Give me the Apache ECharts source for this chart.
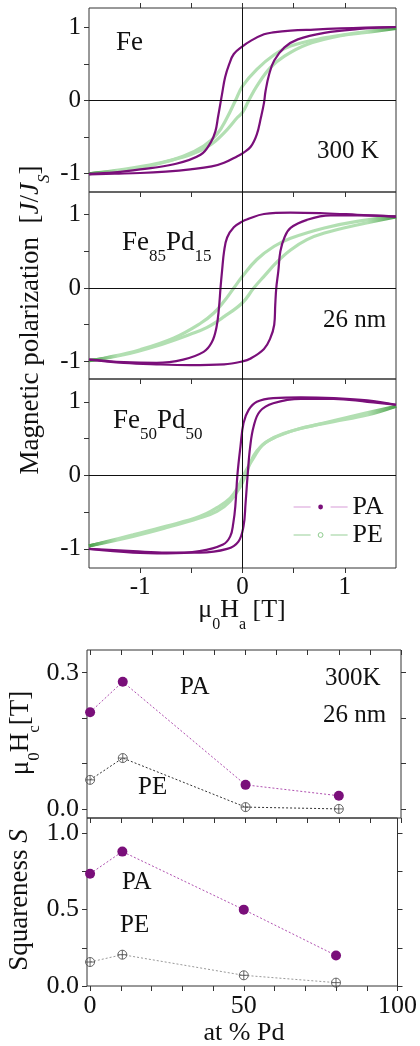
<!DOCTYPE html>
<html>
<head>
<meta charset="utf-8">
<title>Fe-Pd hysteresis loops</title>
<script src="https://cdn.jsdelivr.net/npm/echarts@6/dist/echarts.min.js"></script>
<style>
html,body{margin:0;padding:0;background:#fff;}
#main{width:420px;height:1046px;}
</style>
</head>
<body>
<div id="main"></div>
<script>
// tick positions / labels
var fieldTicks = [-1, -0.5, 0, 0.5, 1];
var fieldLabels = [-1, 0, 1];
var polTicks = [-1, -0.5, 0, 0.5, 1];
var polLabels = [-1, 0, 1];
var pdTicks = [0, 10, 20, 30, 40, 50, 60, 70, 80, 90, 100];
var pdLabels = [0, 50, 100];
var hcTicks = [0, 0.1, 0.2, 0.3];
var hcLabels = [0, 0.3];
var sqTicks = [0, 0.25, 0.5, 0.75, 1];
var sqLabels = [0, 0.5, 1];

// Fe, 300 K  [mu0H (T), J/Js]
var feDownPA = [[1.5,1.01],[1.2,1.0],[0.96,0.99],[0.7,0.975],[0.47,0.96],[0.3,0.935],[0.21,0.91],[0.08,0.82],[0,0.745],
    [-0.085,0.64],[-0.13,0.50],[-0.17,0.32],[-0.2,0.09],[-0.215,-0.03],[-0.24,-0.23],[-0.265,-0.42],[-0.31,-0.57],
    [-0.41,-0.74],[-0.67,-0.87],[-1.0,-0.94],[-1.25,-0.98],[-1.5,-1.0]];
var feUpPA = [[-1.5,-1.01],[-1.25,-1.0],[-1.0,-0.99],[-0.75,-0.97],[-0.51,-0.94],[-0.3,-0.9],[-0.18,-0.85],[-0.05,-0.76],[0,-0.72],
    [0.08,-0.63],[0.14,-0.46],[0.18,-0.23],[0.21,-0.03],[0.225,0.13],[0.26,0.36],[0.31,0.55],[0.41,0.73],
    [0.54,0.84],[0.8,0.93],[1.12,0.98],[1.5,1.01]];
var feDownPE = [[1.5,1.0],[1.12,0.93],[0.8,0.86],[0.47,0.75],[0.31,0.63],[0.14,0.43],[0,0.2],[-0.07,0],[-0.15,-0.23],
    [-0.25,-0.46],[-0.38,-0.62],[-0.58,-0.76],[-0.84,-0.87],[-1.16,-0.95],[-1.5,-1.0]];
var feUpPE = [[-1.5,-1.0],[-1.16,-0.94],[-0.84,-0.86],[-0.51,-0.74],[-0.31,-0.6],[-0.18,-0.44],[-0.05,-0.23],[0,-0.16],
    [0.06,0],[0.14,0.2],[0.27,0.45],[0.41,0.61],[0.63,0.77],[0.96,0.89],[1.29,0.95],[1.5,0.99]];

// Fe85Pd15, 26 nm
var fe85DownPA = [[1.5,0.975],[1.12,1.0],[0.8,1.02],[0.47,1.03],[0.21,1.01],[0.05,0.94],[0,0.91],[-0.085,0.83],
    [-0.15,0.69],[-0.18,0.50],[-0.2,0.23],[-0.215,0],[-0.23,-0.27],[-0.255,-0.54],[-0.3,-0.74],[-0.38,-0.87],
    [-0.58,-0.975],[-0.84,-1.02],[-1.16,-1.01],[-1.5,-0.975]];
var fe85UpPA = [[-1.5,-0.975],[-1.16,-1.02],[-0.84,-1.04],[-0.51,-1.05],[-0.18,-1.04],[0,-1.0],[0.08,-0.96],[0.21,-0.83],
    [0.27,-0.69],[0.31,-0.5],[0.32,-0.23],[0.33,0],[0.35,0.23],[0.37,0.5],[0.41,0.69],[0.47,0.82],[0.63,0.93],
    [0.86,0.99],[1.12,0.99],[1.5,0.975]];
var fe85DownPE = [[1.5,0.975],[1.12,0.91],[0.8,0.82],[0.47,0.68],[0.31,0.57],[0.14,0.39],[0,0.16],[-0.085,0],
    [-0.18,-0.18],[-0.28,-0.34],[-0.41,-0.48],[-0.67,-0.68],[-1.0,-0.84],[-1.33,-0.95],[-1.5,-0.99]];
var fe85UpPE = [[-1.5,-0.99],[-1.16,-0.91],[-0.84,-0.79],[-0.51,-0.63],[-0.35,-0.54],[-0.18,-0.39],[0,-0.2],[0.11,0],
    [0.21,0.16],[0.34,0.36],[0.47,0.52],[0.63,0.66],[0.8,0.75],[1.12,0.86],[1.5,0.97]];

// Fe50Pd50
var fe50DownPA = [[1.5,0.96],[1.22,1.02],[0.89,1.05],[0.57,1.06],[0.3,1.05],[0.14,1.0],[0.06,0.89],[0.01,0.71],
    [-0.02,0.39],[-0.05,0],[-0.07,-0.42],[-0.09,-0.65],[-0.12,-0.83],[-0.19,-0.94],[-0.42,-1.03],[-0.74,-1.06],
    [-1.07,-1.05],[-1.5,-1.0]];
var fe50UpPA = [[-1.5,-1.0],[-1.07,-1.03],[-0.74,-1.05],[-0.42,-1.05],[-0.15,-1.0],[-0.04,-0.9],[0.01,-0.69],[0.03,-0.38],
    [0.05,0],[0.075,0.39],[0.11,0.67],[0.17,0.87],[0.3,0.98],[0.57,1.04],[0.89,1.04],[1.22,1.0],[1.5,0.96]];
var fe50DownPE = [[1.5,0.94],[1.22,0.82],[0.89,0.73],[0.57,0.64],[0.34,0.53],[0.2,0.42],[0.11,0.24],[0.04,0.08],[0.01,0],
    [-0.04,-0.15],[-0.12,-0.31],[-0.25,-0.44],[-0.42,-0.56],[-0.74,-0.69],[-1.07,-0.81],[-1.5,-0.96]];
var fe50UpPE = [[-1.5,-0.96],[-1.07,-0.83],[-0.74,-0.71],[-0.42,-0.58],[-0.25,-0.49],[-0.12,-0.35],[-0.02,-0.15],[0.03,0],
    [0.075,0.17],[0.14,0.33],[0.24,0.46],[0.4,0.57],[0.73,0.69],[1.06,0.80],[1.5,0.94]];

// coercivity and squareness vs Pd content
var pdAt = [0, 10.5, 50, 80];
var hcPA = [0.213, 0.28, 0.053, 0.029];
var hcPE = [0.064, 0.112, 0.004, 0.0];
var sqPA = [0.735, 0.88, 0.5, 0.2];
var sqPE = [0.157, 0.205, 0.07, 0.022];

var serif = 'Liberation Serif';
var PURPLE = '#7a0f7a';
var INK = '#111';
var greenGrad = {
    type: 'linear', x: 0, y: 0, x2: 1, y2: 0,
    colorStops: [{offset: 0, color: '#3f9a3f'}, {offset: 0.1, color: '#b2dfb2'},
        {offset: 0.9, color: '#b2dfb2'}, {offset: 1, color: '#3f9a3f'}]
};
var crossCircle = 'path://M0 10A10 10 0 1 0 20 10A10 10 0 1 0 0 10ZM10 0V20M0 10H20';

function pairs(xs, ys) {
    return xs.map(function (x, i) { return [x, ys[i]]; });
}

// tick label text through rich so the serif font is forced
function tickText(fmt, size) {
    return {
        formatter: function (v) { return '{t|' + (fmt ? fmt(v) : String(v)) + '}'; },
        rich: {t: {fontFamily: serif, fontSize: size, color: INK}}
    };
}

function xAx(grid, pos, min, max, ticks, labels, inside) {
    return {
        type: 'value', gridIndex: grid, position: pos, min: min, max: max,
        axisLine: {show: false, onZero: false},
        splitLine: {show: false},
        axisTick: {show: true, inside: !!inside, length: 5, customValues: ticks, lineStyle: {color: '#333'}},
        axisLabel: Object.assign({show: !!labels, customValues: labels || [], margin: 7, hideOverlap: false},
            tickText(null, grid > 2 ? 26 : 25))
    };
}

function yAx(grid, pos, min, max, ticks, labels, fmt) {
    return {
        type: 'value', gridIndex: grid, position: pos, min: min, max: max,
        axisLine: {show: false, onZero: false},
        splitLine: {show: false},
        axisTick: {show: true, inside: false, length: 5, customValues: ticks, lineStyle: {color: '#333'}},
        axisLabel: Object.assign({show: !!labels, customValues: labels || [], margin: 8},
            tickText(fmt, grid > 2 ? 26 : 25))
    };
}

// one hysteresis panel: PE first, PA on top
function loop(xi, yi, paDown, paUp, peDown, peUp) {
    var pe = {type: 'line', name: 'PE', xAxisIndex: xi, yAxisIndex: yi, symbol: 'none', smooth: 0.4,
        lineStyle: {color: greenGrad, width: 3.2}, z: 2};
    var pa = {type: 'line', name: 'PA', xAxisIndex: xi, yAxisIndex: yi, symbol: 'none', smooth: 0.4,
        lineStyle: {color: PURPLE, width: 2.2}, z: 3};
    var s1 = Object.assign({}, pe, {data: peDown, markLine: {
        silent: true, symbol: ['none', 'none'], label: {show: false},
        lineStyle: {color: INK, width: 1, type: 'solid'},
        data: [{xAxis: 0}, {yAxis: 0}]
    }});
    var s2 = Object.assign({}, pe, {data: peUp});
    var s3 = Object.assign({}, pa, {data: paDown});
    var s4 = Object.assign({}, pa, {data: paUp});
    return [s1, s2, s3, s4];
}

function rich(size) {
    return {
        m: {fontFamily: serif, fontSize: size, lineHeight: 36, verticalAlign: 'top', fill: INK},
        i: {fontFamily: serif, fontSize: size, fontStyle: 'italic', lineHeight: 36, verticalAlign: 'top', fill: INK},
        s: {fontFamily: serif, fontSize: Math.round(size * 0.63), lineHeight: 14, verticalAlign: 'bottom', fill: INK},
        is: {fontFamily: serif, fontSize: Math.round(size * 0.63), fontStyle: 'italic', lineHeight: 14, verticalAlign: 'bottom', fill: INK}
    };
}

function label(x, y, text, size, align, rot) {
    return {
        type: 'text', x: x, y: y, rotation: rot || 0, silent: true, z: 10,
        style: {text: text, rich: rich(size), fontFamily: serif, fontSize: size, fill: INK,
            align: align || 'left', verticalAlign: 'middle'}
    };
}

var myChart = echarts.init(document.getElementById('main'));

var fix1 = function (v) { return v.toFixed(1); };

var series = [].concat(
    loop(0, 0, feDownPA, feUpPA, feDownPE, feUpPE),
    loop(2, 1, fe85DownPA, fe85UpPA, fe85DownPE, fe85UpPE),
    loop(3, 2, fe50DownPA, fe50UpPA, fe50DownPE, fe50UpPE),
    [
        {type: 'line', name: 'Hc PA', xAxisIndex: 4, yAxisIndex: 3, data: pairs(pdAt, hcPA), clip: false,
            symbol: 'circle', symbolSize: 10, itemStyle: {color: PURPLE},
            lineStyle: {color: '#b050b0', width: 1, type: [2, 2]}},
        {type: 'line', name: 'Hc PE', xAxisIndex: 4, yAxisIndex: 3, data: pairs(pdAt, hcPE), clip: false,
            symbol: crossCircle, symbolSize: 9, itemStyle: {color: 'rgba(0,0,0,0)', borderColor: '#555', borderWidth: 0.9},
            lineStyle: {color: '#333', width: 1, type: [2, 2]}},
        {type: 'line', name: 'S PA', xAxisIndex: 6, yAxisIndex: 5, data: pairs(pdAt, sqPA), clip: false,
            symbol: 'circle', symbolSize: 10, itemStyle: {color: PURPLE},
            lineStyle: {color: '#b050b0', width: 1, type: [2, 2]}},
        {type: 'line', name: 'S PE', xAxisIndex: 6, yAxisIndex: 5, data: pairs(pdAt, sqPE), clip: false,
            symbol: crossCircle, symbolSize: 9, itemStyle: {color: 'rgba(0,0,0,0)', borderColor: '#555', borderWidth: 0.9},
            lineStyle: {color: '#999', width: 1, type: [2, 2]}}
    ]
);

var option = {
    animation: false,
    backgroundColor: '#fff',
    textStyle: {fontFamily: serif},
    grid: [
        {left: 89, top: 8, width: 307, height: 184},
        {left: 89, top: 192, width: 307, height: 187},
        {left: 89, top: 379, width: 307, height: 189},
        {left: 87, top: 650, width: 314, height: 168},
        {left: 87, top: 818, width: 314, height: 168}
    ].map(function (g) {
        return Object.assign({show: true, borderColor: '#333', borderWidth: 1, backgroundColor: 'transparent'}, g);
    }),
    xAxis: [
        xAx(0, 'bottom', -1.5, 1.5, fieldTicks),
        xAx(0, 'top', -1.5, 1.5, fieldTicks),
        xAx(1, 'bottom', -1.5, 1.5, fieldTicks),
        xAx(2, 'bottom', -1.5, 1.5, fieldTicks, fieldLabels),
        xAx(3, 'bottom', -1, 100, pdTicks),
        xAx(3, 'top', -1, 100, pdTicks, null, true),
        xAx(4, 'bottom', -1, 100, pdTicks, pdLabels)
    ],
    yAxis: [
        yAx(0, 'left', -1.25, 1.27, polTicks, polLabels),
        yAx(1, 'left', -1.24, 1.31, polTicks, polLabels),
        yAx(2, 'left', -1.26, 1.31, polTicks, polLabels),
        yAx(3, 'left', -0.02, 0.35, hcTicks, hcLabels, fix1),
        yAx(3, 'right', -0.02, 0.35, hcTicks),
        yAx(4, 'left', 0, 1.1, sqTicks, sqLabels, fix1),
        yAx(4, 'right', 0, 1.1, sqTicks)
    ],
    legend: {
        orient: 'vertical', left: 293, top: 494, padding: 0, itemGap: 2,
        itemWidth: 54, itemHeight: 6, selectedMode: false,
        textStyle: {fontFamily: serif, fontSize: 26, color: INK, lineHeight: 26},
        data: [
            {name: 'PA', itemStyle: {color: PURPLE, borderWidth: 0},
                lineStyle: {color: '#d79bd7', width: 1.2, type: [17, 20]}},
            {name: 'PE', itemStyle: {color: '#fff', borderColor: '#8fcc8f', borderWidth: 1},
                lineStyle: {color: '#98d098', width: 1.2, type: [17, 20]}}
        ]
    },
    graphic: [
        label(116, 43, 'Fe', 27),
        label(317, 151, '300 K', 25),
        label(122, 247, '{m|Fe}{s|85}{m|Pd}{s|15}', 27),
        label(323, 320, '26 nm', 25),
        label(113, 425, '{m|Fe}{s|50}{m|Pd}{s|50}', 27),
        label(242, 615, '{m|μ}{s|0}{m|H}{s|a}{m| [T]}', 26, 'center'),
        label(35, 320, '{m|Magnetic polarization  [}{i|J}{m|/}{i|J}{is|S}{m|]}', 27, 'center', Math.PI / 2),
        label(180, 687, 'PA', 25),
        label(138, 787, 'PE', 25),
        label(325, 678, '300K', 25),
        label(323, 715, '26 nm', 25),
        label(25, 733, '{m|μ}{s|0}{m|H}{s|c}{m|[T]}', 27, 'center', Math.PI / 2),
        label(122, 882, 'PA', 25),
        label(120, 925, 'PE', 25),
        label(24, 900, '{m|Squareness }{i|S}', 27, 'center', Math.PI / 2),
        label(244, 1033, 'at % Pd', 26, 'center')
    ],
    series: series
};
myChart.setOption(option, true);
</script>
</body>
</html>
